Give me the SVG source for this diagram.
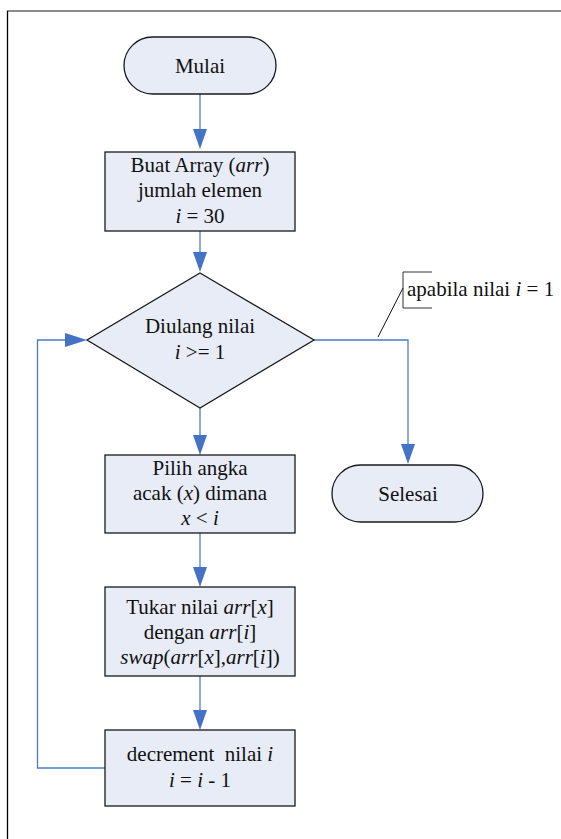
<svg xmlns="http://www.w3.org/2000/svg" width="561" height="839" viewBox="0 0 561 839">
<style>
.node{fill:#E7ECF7;stroke:#1a1a1a;stroke-width:1.3}
.lbl{font-family:'Liberation Serif','Times New Roman',serif;font-size:21px;fill:#111}
.mid{text-anchor:middle}
.it{font-style:italic}
.conn{fill:none;stroke:#4A7CC8;stroke-width:1.3}
.ah{fill:#4472C4}
</style>
<defs>
<polygon id="down" class="ah" points="-7,-20 7,-20 0,0"/>
</defs>
<rect width="561" height="839" fill="#fff"/>
<line x1="7" y1="11" x2="561" y2="11" stroke="#666" stroke-width="1.5"/>
<line x1="7.5" y1="11" x2="7.5" y2="839" stroke="#000" stroke-width="1.3"/>
<g id="connectors">
<line class="conn" x1="200" y1="94" x2="200" y2="132"/>
<use href="#down" x="200" y="149"/>
<line class="conn" x1="200" y1="231" x2="200" y2="255"/>
<use href="#down" x="200" y="272"/>
<line class="conn" x1="200" y1="408" x2="200" y2="438"/>
<use href="#down" x="200" y="455"/>
<line class="conn" x1="200" y1="533" x2="200" y2="570"/>
<use href="#down" x="200" y="587"/>
<line class="conn" x1="200" y1="676" x2="200" y2="713"/>
<use href="#down" x="200" y="730"/>
<polyline class="conn" points="314,340 408,340 408,447"/>
<use href="#down" x="408" y="464"/>
<polyline class="conn" points="105,768 37.5,768 37.5,340 68,340"/>
<polygon class="ah" points="65,333 65,347 87,340"/>
</g>
<g id="annotation">
<line x1="378" y1="337" x2="403" y2="288" stroke="#111" stroke-width="1"/>
<polyline points="432,272 403,272 403,308 432,308" fill="none" stroke="#333" stroke-width="1"/>
<text class="lbl" x="407" y="296">apabila nilai <tspan class="it">i</tspan> = 1</text>
</g>
<g id="mulai">
<rect class="node" x="124" y="37" width="152" height="57" rx="28.5"/>
<text class="lbl mid" x="200" y="73">Mulai</text>
</g>
<g id="buat-array">
<rect class="node" x="105" y="152" width="190" height="79"/>
<text class="lbl mid" x="200" y="172">Buat Array (<tspan class="it">arr</tspan>)</text>
<text class="lbl mid" x="200" y="197">jumlah elemen</text>
<text class="lbl mid" x="200" y="223"><tspan class="it">i</tspan> = 30</text>
</g>
<g id="diulang">
<polygon class="node" points="200,273 314,340 200,408 87,340"/>
<text class="lbl mid" x="200" y="333">Diulang nilai</text>
<text class="lbl mid" x="200" y="359"><tspan class="it">i</tspan> &gt;= 1</text>
</g>
<g id="pilih">
<rect class="node" x="105" y="455" width="190" height="78"/>
<text class="lbl mid" x="200" y="475">Pilih angka</text>
<text class="lbl mid" x="200" y="500">acak (<tspan class="it">x</tspan>) dimana</text>
<text class="lbl mid" x="200" y="525"><tspan class="it">x</tspan> &lt; <tspan class="it">i</tspan></text>
</g>
<g id="tukar">
<rect class="node" x="105" y="587" width="190" height="89"/>
<text class="lbl mid" x="200" y="614">Tukar nilai <tspan class="it">arr</tspan>[<tspan class="it">x</tspan>]</text>
<text class="lbl mid" x="200" y="639">dengan <tspan class="it">arr</tspan>[<tspan class="it">i</tspan>]</text>
<text class="lbl mid" x="200" y="664"><tspan class="it">swap</tspan>(<tspan class="it">arr</tspan>[<tspan class="it">x</tspan>],<tspan class="it">arr</tspan>[<tspan class="it">i</tspan>])</text>
</g>
<g id="decrement">
<rect class="node" x="105" y="730" width="190" height="76"/>
<text class="lbl mid" x="200" y="761" xml:space="preserve">decrement  nilai <tspan class="it">i</tspan></text>
<text class="lbl mid" x="200" y="787"><tspan class="it">i</tspan> = <tspan class="it">i</tspan> - 1</text>
</g>
<g id="selesai">
<rect class="node" x="332" y="465" width="151" height="57" rx="28.5"/>
<text class="lbl mid" x="408" y="501">Selesai</text>
</g>
</svg>
